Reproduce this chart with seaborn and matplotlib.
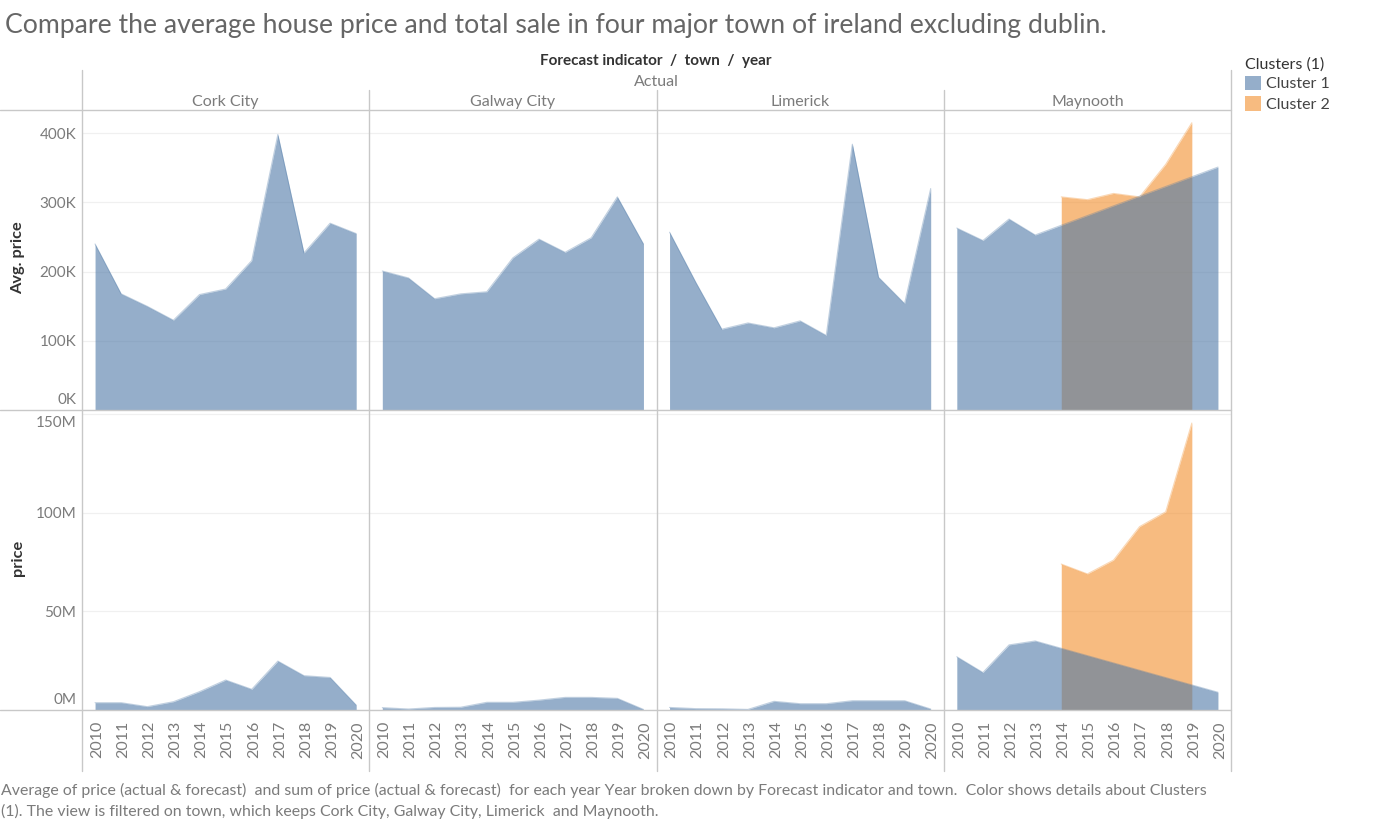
import seaborn as sns
import pandas as pd
import matplotlib.pyplot as plt
from matplotlib.lines import Line2D
from matplotlib.patches import Patch
from matplotlib.transforms import ScaledTranslation

towns = ['Cork City', 'Galway City', 'Limerick', 'Maynooth']
years = list(range(2010, 2021))
may_c1_years = [2010, 2011, 2012, 2013, 2020]
may_c2_years = [2014, 2015, 2016, 2017, 2018, 2019]

# avg price, in thousands
cork_avg = [240, 168, 150, 130, 167, 175, 216, 398, 227, 270, 255]
galway_avg = [201, 191, 161, 168, 171, 220, 247, 228, 249, 308, 240]
limerick_avg = [257, 185, 117, 126, 119, 129, 108, 384, 192, 154, 320]
may_c1_avg = [263, 245, 276, 253, 351]
may_c2_avg = [308, 304, 313, 308, 355, 415]

# total price, in millions
cork_sum = [3.7, 3.7, 1.7, 4.2, 9.3, 15.2, 10.5, 24.8, 17.4, 16.5, 2.5]
galway_sum = [1.2, 0.5, 1.3, 1.4, 3.9, 3.9, 5.0, 6.4, 6.4, 5.9, 0.3]
limerick_sum = [1.3, 0.7, 0.6, 0.3, 4.4, 3.2, 3.2, 4.7, 4.7, 4.7, 0.5]
may_c1_sum = [27, 19, 33, 35, 9]
may_c2_sum = [74, 69, 76, 93, 100.5, 145.5]

BLUE = '#4e79a7'
ORANGE = '#f28e2b'
GREY = '#7b7b7b'
DARK = '#333333'
RULE = '#c8c8c8'
W, H = 1383, 821


def rows_for(town, measure, cluster, xs, ys):
    return [dict(town=town, measure=measure, cluster=cluster, year=x, value=y)
            for x, y in zip(xs, ys)]


rows = []
rows += rows_for('Cork City', 'avg', 'Cluster 1', years, [v * 1000 for v in cork_avg])
rows += rows_for('Galway City', 'avg', 'Cluster 1', years, [v * 1000 for v in galway_avg])
rows += rows_for('Limerick', 'avg', 'Cluster 1', years, [v * 1000 for v in limerick_avg])
rows += rows_for('Maynooth', 'avg', 'Cluster 2', may_c2_years, [v * 1000 for v in may_c2_avg])
rows += rows_for('Maynooth', 'avg', 'Cluster 1', may_c1_years, [v * 1000 for v in may_c1_avg])
rows += rows_for('Cork City', 'sum', 'Cluster 1', years, [v * 1e6 for v in cork_sum])
rows += rows_for('Galway City', 'sum', 'Cluster 1', years, [v * 1e6 for v in galway_sum])
rows += rows_for('Limerick', 'sum', 'Cluster 1', years, [v * 1e6 for v in limerick_sum])
rows += rows_for('Maynooth', 'sum', 'Cluster 2', may_c2_years, [v * 1e6 for v in may_c2_sum])
rows += rows_for('Maynooth', 'sum', 'Cluster 1', may_c1_years, [v * 1e6 for v in may_c1_sum])
df = pd.DataFrame(rows)

sns.set_theme(style='white')
plt.rcParams['font.family'] = ['Lato', 'DejaVu Sans']


def draw_area(data, **kwargs):
    ax = plt.gca()
    palette = {'Cluster 1': BLUE, 'Cluster 2': ORANGE}
    for cluster, part in data.groupby('cluster', sort=False):
        col = palette[cluster]
        ax.fill_between(part['year'], 0, part['value'], color=col, alpha=0.6, linewidth=0)
        sns.lineplot(data=part, x='year', y='value', color=col, alpha=0.35, linewidth=0.8,
                     estimator=None, ax=ax, legend=False)


g = sns.FacetGrid(df, row='measure', col='town', col_order=towns, row_order=['avg', 'sum'],
                  sharex=True, sharey='row', height=3, aspect=1, despine=False)
g.map_dataframe(draw_area)
g.figure.set_size_inches(W / 100, H / 100)
g.figure.set_dpi(100)
g.figure.subplots_adjust(left=82 / W, right=1231 / W, top=1 - 110.5 / H, bottom=1 - 710 / H,
                         wspace=0, hspace=0)
g.set_titles('')

avg_ticks = [0, 100000, 200000, 300000, 400000]
avg_labels = ['0K', '100K', '200K', '300K', '400K']
sum_ticks = [0, 50e6, 100e6, 150e6]
sum_labels = ['0M', '50M', '100M', '150M']

fig = g.figure


def nudge(label, dx, dy):
    # offset in pixels, screen y goes up
    label.set_transform(label.get_transform() + ScaledTranslation(dx / 100, dy / 100, fig.dpi_scale_trans))


for i, row_axes in enumerate(g.axes):
    for j, ax in enumerate(row_axes):
        ax.set_xlim(2009.5, 2020.5)
        ax.set_xlabel('')
        ax.set_ylabel('')
        for s in ax.spines.values():
            s.set_visible(False)
        ax.set_xticks(years)
        ax.set_yticks(avg_ticks if i == 0 else sum_ticks)
        ax.set_ylim(0, 432700 if i == 0 else 152e6)
        ax.grid(axis='y', color='#f0f0f0', linewidth=0.9)
        ax.set_axisbelow(True)
        ax.tick_params(axis='y', length=0, pad=4, labelsize=11, labelcolor=GREY)
        ax.tick_params(axis='x', length=3 if i == 1 else 0, color='#e6e6e6', width=0.8, pad=5,
                       labelsize=11.5, labelcolor=GREY, labelbottom=(i == 1))
        if i == 1:
            ax.set_xticklabels([str(y) for y in years], rotation=90)
            for lab in ax.get_xticklabels():
                nudge(lab, 2, 0)
        if j == 0:
            ax.set_yticklabels(avg_labels if i == 0 else sum_labels)
            # first and last labels are pushed inside the pane
            labs = ax.get_yticklabels()
            labs[0].set_va('bottom')
            nudge(labs[0], 0, 3)
            if i == 1:
                labs[-1].set_va('top')
                nudge(labs[-1], 0, -2)


def px_line(x0, y0, x1, y1):
    fig.add_artist(Line2D([x0 / W, x1 / W], [1 - y0 / H, 1 - y1 / H], color=RULE, linewidth=1))


def px_text(x, y, s, **kw):
    fig.text(x / W, 1 - y / H, s, va='center', **kw)


px_line(0, 110.5, 1231, 110.5)
px_line(0, 410, 1231, 410)
px_line(0, 710, 1231, 710)
px_line(82, 70, 82, 771)
px_line(1230.5, 70, 1230.5, 771)
for x in [369, 657, 944]:
    px_line(x, 90, x, 771)

px_text(5, 25.5, 'Compare the average house price and total sale in four major town of ireland excluding dublin.',
        fontsize=19.15, color='#666666', ha='left')
px_text(656, 61, 'Forecast indicator  /  town  /  year', fontsize=11, color=DARK, ha='center', fontweight='bold')
px_text(656, 82, 'Actual', fontsize=11.5, color=GREY, ha='center')
for x, town in zip([225.5, 513, 800.5, 1087.5], towns):
    px_text(x, 102, town, fontsize=11.5, color=GREY, ha='center')
px_text(18, 258, 'Avg. price', fontsize=11.8, color=DARK, ha='center', rotation=90, fontweight='bold')
px_text(18, 558, 'price', fontsize=11.8, color=DARK, ha='center', rotation=90, fontweight='bold')

px_text(1, 790, 'Average of price (actual & forecast)  and sum of price (actual & forecast)  for each year Year broken down by Forecast indicator and town.  Color shows details about Clusters',
        fontsize=11.45, color=GREY, ha='left')
px_text(1, 811, '(1). The view is filtered on town, which keeps Cork City, Galway City, Limerick  and Maynooth.',
        fontsize=11.45, color=GREY, ha='left')

handles = [Patch(facecolor=BLUE, alpha=0.6, linewidth=0), Patch(facecolor=ORANGE, alpha=0.6, linewidth=0)]
leg = fig.legend(handles, ['Cluster 1', 'Cluster 2'], title='Clusters (1)', loc='upper left',
                 bbox_to_anchor=(1240 / W, 1 - 52.5 / H), frameon=False, fontsize=11.5,
                 title_fontsize=11.5, handlelength=1.0, handleheight=1.0, handletextpad=0.3,
                 labelspacing=0.3, borderpad=0.3, borderaxespad=0, alignment='left',
                 labelcolor='#444444')
leg.get_title().set_color(DARK)
leg._legend_box.sep = 3

fig.savefig('out.png', dpi=100)
